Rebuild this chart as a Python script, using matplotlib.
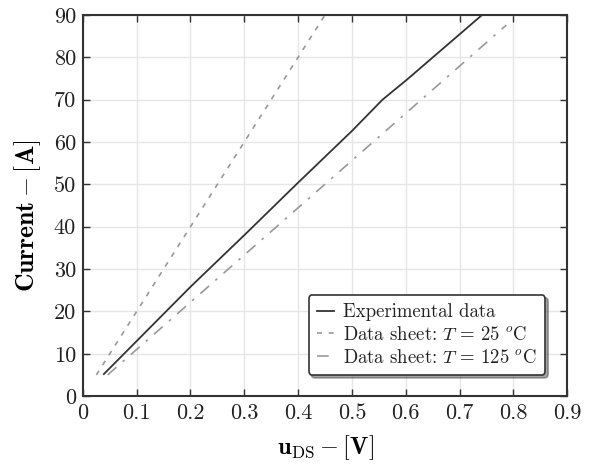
import matplotlib
matplotlib.use("Agg")
import matplotlib.pyplot as plt
from matplotlib.ticker import FuncFormatter

plt.rcParams['mathtext.fontset'] = 'cm'
plt.rcParams['font.family'] = 'serif'
plt.rcParams['font.serif'] = ['cmr10', 'DejaVu Serif']
plt.rcParams['axes.formatter.use_mathtext'] = True
plt.rcParams['axes.unicode_minus'] = False
plt.rcParams['text.color'] = '#222222'

# Experimental data
exp_u = [0.039, 0.1, 0.2, 0.3, 0.4, 0.5, 0.557, 0.603, 0.742]
exp_i = [5.2, 13.0, 25.8, 38.0, 50.4, 62.6, 70.0, 74.8, 90.0]
# Data sheet T = 25 C
ds25_u = [0.025, 0.45]
ds25_i = [5.0, 90.0]
# Data sheet T = 125 C
ds125_u = [0.046, 0.787]
ds125_i = [5.0, 87.6]

xticks = [0, 0.1, 0.2, 0.3, 0.4, 0.5, 0.6, 0.7, 0.8, 0.9]
yticks = [0, 10, 20, 30, 40, 50, 60, 70, 80, 90]

fig = plt.figure(figsize=(5.92, 4.66), dpi=100)
ax = fig.add_axes([0.140, 0.150, 0.818, 0.818])

ax.plot(exp_u, exp_i, color='#333333', lw=1.3, ls='-', label='Experimental data')
ax.plot(ds25_u, ds25_i, color='#999999', lw=1.2, ls=(0, (3, 4)),
        label=r'Data sheet: $T\,=\,25\ ^o$C')
ax.plot(ds125_u, ds125_i, color='#999999', lw=1.2, ls=(0, (7, 5, 1.5, 5)),
        label=r'Data sheet: $T\,=\,125\ ^o$C')

ax.set_xlim(0, 0.9)
ax.set_ylim(0, 90)
ax.set_xticks(xticks)
ax.set_yticks(yticks)

def fmt(v, pos):
    return '%g' % v
ax.xaxis.set_major_formatter(FuncFormatter(fmt))
ax.yaxis.set_major_formatter(FuncFormatter(fmt))
ax.tick_params(direction='in', top=True, right=True, length=5, width=1.0,
               color='#333333', labelcolor='#222222', labelsize=16, pad=5)

ax.grid(True, color='#e6e6e6', lw=1.0)
ax.set_axisbelow(True)
for s in ax.spines.values():
    s.set_color('#333333')
    s.set_linewidth(1.5)

ax.set_xlabel(r'$\mathbf{u}_{\mathrm{DS}}-[\mathbf{V}]$', fontsize=17.5, labelpad=8)
ax.set_ylabel(r'$\mathbf{Current}-[\mathbf{A}]$', fontsize=18.5)
ax.yaxis.set_label_coords(-0.083, 0.472)

leg = ax.legend(loc='lower right', bbox_to_anchor=(0.955, 0.055), borderaxespad=0,
                fancybox=True, shadow=True, fontsize=13.5, handlelength=0.9,
                handletextpad=0.5, labelspacing=0.25, borderpad=0.45, framealpha=1)
leg.get_frame().set_edgecolor('#333333')
leg.get_frame().set_linewidth(1.2)

fig.savefig('out.png', dpi=100)
